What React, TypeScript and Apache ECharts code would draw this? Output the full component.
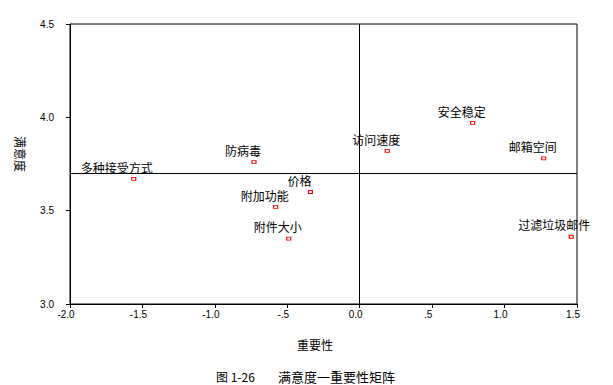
import React, { useEffect, useRef } from "react";
import * as echarts from "echarts";

const names = ["多种接受方式", "防病毒", "价格", "附加功能", "附件大小", "访问速度", "安全稳定", "邮箱空间", "过滤垃圾邮件"];
const importance = [-1.56, -0.73, -0.34, -0.58, -0.49, 0.19, 0.78, 1.27, 1.46];
const satisfaction = [3.67, 3.76, 3.6, 3.52, 3.35, 3.82, 3.97, 3.78, 3.36];
const xRefValue = 0;
const yRefValue = 3.7;
const xTitle = "重要性";
const yTitle = "满意度";
const captionNo = "图 1-26";
const captionText = "满意度一重要性矩阵";

const cjk = '"Noto Sans CJK SC", "Noto Sans", sans-serif';
const num = '"Liberation Sans", Arial, sans-serif';

function fmt(v: number): string {
  if (Math.abs(v) < 1e-9) return "0.0";
  const s = Math.abs(v).toFixed(1);
  const t = Math.abs(v) < 1 ? s.slice(1) : s;
  return (v < 0 ? "-" : "") + t;
}

export default function App() {
  const ref = useRef<HTMLDivElement>(null);
  useEffect(() => {
    if (!ref.current) return;
    const chart = echarts.init(ref.current, undefined, { renderer: "svg" });
    const data = names.map((n, i) => ({
      name: n,
      value: [importance[i], satisfaction[i]],
      label: { offset: [n.length >= 6 ? -17 : -11, 0] },
    }));
    chart.setOption({
      animation: false,
      backgroundColor: "#ffffff",
      grid: { left: 70, right: 36, top: 24, bottom: 81, show: true, borderColor: "#000", borderWidth: 1 },
      xAxis: {
        type: "value",
        min: -2,
        max: 1.5,
        interval: 0.5,
        splitLine: { show: false },
        axisLine: { onZero: false, lineStyle: { color: "#000", width: 1 } },
        axisTick: { show: true, length: 4, lineStyle: { color: "#000" } },
        axisLabel: { formatter: fmt, color: "#000", fontSize: 10, fontFamily: num, margin: 5, padding: [0, 8, 0, 0] },
      },
      yAxis: {
        type: "value",
        min: 3,
        max: 4.5,
        interval: 0.5,
        splitLine: { show: false },
        axisLine: { onZero: false, lineStyle: { color: "#000", width: 1 } },
        axisTick: { show: true, length: 4, lineStyle: { color: "#000" } },
        axisLabel: { formatter: fmt, color: "#000", fontSize: 10, fontFamily: num, margin: 16 },
      },
      graphic: [
        { type: "text", x: 315, y: 344, style: { text: xTitle, fill: "#000", font: `12px ${cjk}`, align: "center", verticalAlign: "middle" } },
        { type: "text", x: 20, y: 154, rotation: -Math.PI / 2, style: { text: yTitle, fill: "#000", font: `12px ${cjk}`, align: "center", verticalAlign: "middle" } },
        { type: "text", x: 216, y: 376, style: { text: captionNo, fill: "#000", font: `12px ${cjk}`, align: "left", verticalAlign: "middle" } },
        { type: "text", x: 278, y: 376, style: { text: captionText, fill: "#000", font: `13px ${cjk}`, align: "left", verticalAlign: "middle" } },
      ],
      series: [
        {
          type: "scatter",
          data,
          symbol: "rect",
          symbolSize: [4, 3],
          itemStyle: { color: "#fff", borderColor: "#ff0000", borderWidth: 1, opacity: 1 },
          label: {
            show: true,
            position: "top",
            distance: 4,
            formatter: (p: any) => p.name,
            color: "#000",
            fontSize: 12,
            fontFamily: cjk,
          },
          markLine: {
            silent: true,
            symbol: ["none", "none"],
            label: { show: false },
            lineStyle: { color: "#000", width: 1, type: "solid" },
            data: [{ xAxis: xRefValue }, { yAxis: yRefValue }],
          },
        },
      ],
    });
    return () => chart.dispose();
  }, []);
  return <div ref={ref} style={{ position: "fixed", left: 0, top: 0, width: 613, height: 385, background: "#fff" }} />;
}
